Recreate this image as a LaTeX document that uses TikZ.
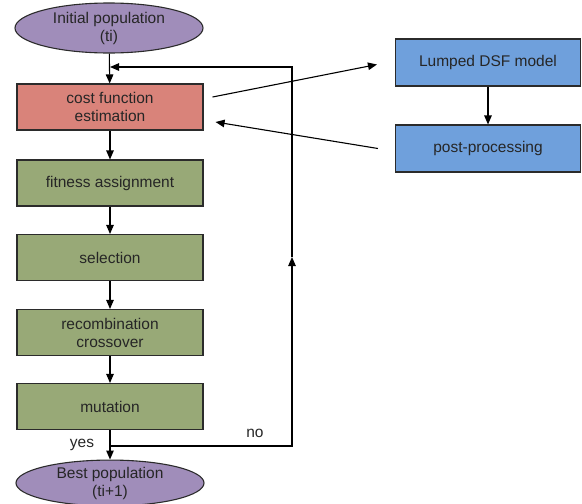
\documentclass[tikz,border=0pt]{standalone}
\usepackage{fontspec}
\setmainfont{Liberation Sans}
\usetikzlibrary{shapes.geometric,arrows.meta}

\definecolor{popviolet}{HTML}{A08DBA}
\definecolor{costred}{HTML}{D9837A}
\definecolor{stepgreen}{HTML}{98A977}
\definecolor{modelblue}{HTML}{6FA0DC}
\definecolor{edgegray}{HTML}{2B2B2B}

\tikzset{
  basebox/.style={draw=edgegray, line width=1.1pt, text=black!85, align=center,
    font=\fontsize{15.5}{18}\selectfont, inner sep=0pt},
  popnode/.style={basebox, ellipse, fill=popviolet, minimum width=188pt, minimum height=50pt},
  stagebox/.style={basebox, rectangle, fill=stepgreen, minimum width=186pt, minimum height=46pt},
  costbox/.style={stagebox, fill=costred},
  modelbox/.style={basebox, rectangle, fill=modelblue, minimum width=185pt, minimum height=47pt},
  flow/.style={line width=1.1pt, draw=black, -{Triangle[length=9pt,width=7.5pt]}},
  tag/.style={font=\fontsize{15.5}{18}\selectfont, text=black!85}
}

\begin{document}
\begin{tikzpicture}[x=1pt,y=-1pt]
    \useasboundingbox (0,0) rectangle (582,504);

    % Population nodes
    \node[popnode] (init) at (109,28) {Initial population\\(ti)};
    \node[popnode, minimum height=44pt] (best) at (110,483) {Best population\\(ti+1)};

    % GA steps
    \node[costbox] (cost) at (110,107) {cost function\\estimation};
    \node[stagebox] (fit) at (110,183) {fitness assignment};
    \node[stagebox] (sel) at (110,257.5) {selection};
    \node[stagebox] (rec) at (110,332.5) {recombination\\crossover};
    \node[stagebox] (mut) at (110,406.5) {mutation};

    % Model side
    \node[modelbox] (dsf) at (488,62.5) {Lumped DSF model};
    \node[modelbox] (post) at (488,148.5) {post-processing};

    % Main flow
    \draw[flow] (init) -- (cost);
    \draw[flow] (cost) -- (fit);
    \draw[flow] (fit) -- (sel);
    \draw[flow] (sel) -- (rec);
    \draw[flow] (rec) -- (mut);
    \draw[flow] (mut) -- (best);

    % Loop back (no)
    \coordinate (split) at (110,446);
    \coordinate (corner) at (292,446);
    \coordinate (upmid) at (292,257);
    \coordinate (top) at (292,67);
    \coordinate (back) at (110,67);
    \draw[flow] (split) -- (corner) -- (upmid);
    \draw[flow] (upmid) -- (top) -- (back);
    \node[tag] (yes) at (82,445) {yes};
    \node[tag] (no) at (255,433) {no};

    % Exchange with the model
    \draw[flow] ([shift={(9,-10)}]cost.east) -- ([shift={(-18,2)}]dsf.west);
    \draw[flow] (dsf) -- (post);
    \draw[flow] ([shift={(-17,0)}]post.west) -- ([shift={(12,15)}]cost.east);
\end{tikzpicture}
\end{document}
